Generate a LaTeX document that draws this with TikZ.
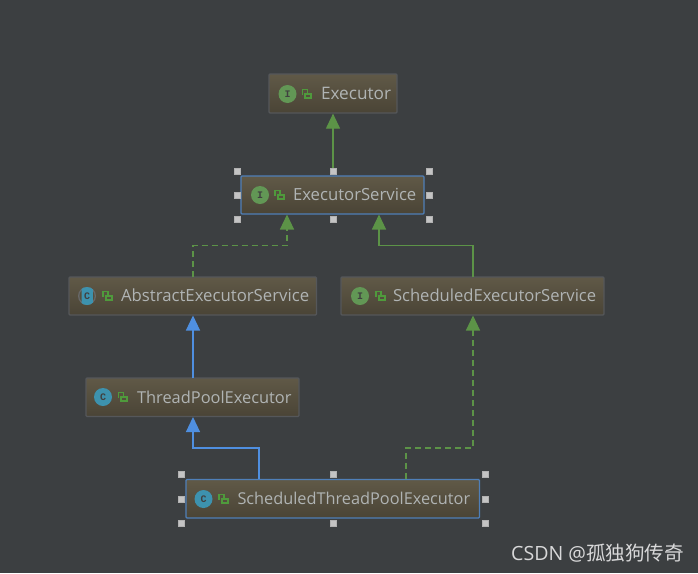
\documentclass[tikz,border=0pt]{standalone}
\usepackage{fontspec}
\setmainfont{Open Sans}
\newfontfamily\cjkwm{Noto Sans CJK SC}
\newfontfamily\iconfont{Liberation Mono}
\usetikzlibrary{arrows.meta,calc}
\definecolor{bgc}{HTML}{3C3F41}
\definecolor{boxtop}{HTML}{605947}
\definecolor{boxbot}{HTML}{4A4436}
\definecolor{boxmid}{HTML}{554F3E}
\definecolor{boxedge}{HTML}{55575A}
\definecolor{seledge}{HTML}{4F7FB8}
\definecolor{labelc}{HTML}{B0B4B4}
\definecolor{grn}{HTML}{5C9347}
\definecolor{blu}{HTML}{4F8FE0}
\definecolor{ifc}{HTML}{629755}
\definecolor{clc}{HTML}{3D92AE}
\definecolor{lockc}{HTML}{4F9A3C}
\definecolor{hdl}{HTML}{C4C4C4}
\tikzset{
  x=1pt,y=-1pt,
  umlbox/.style={draw=boxedge,line width=1.2pt,rounded corners=1pt,top color=boxtop,bottom color=boxbot,
    inner xsep=0pt,inner ysep=0pt,align=left,text=labelc,font=\fontsize{16.3}{19}\selectfont,
    text height=12pt,text depth=0.5pt},
  selbox/.style={draw=seledge},
  iconc/.style={circle,minimum size=18pt,inner sep=0pt,text=black!75,font=\iconfont\bfseries\fontsize{10}{10}\selectfont},
  handlept/.style={rectangle,draw=gray!60,fill=hdl,minimum size=6.5pt,inner sep=0pt,line width=.3pt},
  gline/.style={draw=grn,line width=1.1pt,-{Triangle[width=14pt,length=15pt,fill=grn]}},
  bline/.style={draw=blu,line width=1.2pt,-{Triangle[width=14pt,length=15pt,fill=blu]}},
  dashline/.style={dash pattern=on 6pt off 4pt},
}
\newcommand{\fs}[1]{\fontsize{#1}{19}\selectfont}
% name, x1, y1, x2, y2, extra style, text offset, label
\newcommand{\umlnode}[8]{%
  \pgfmathsetmacro{\bw}{#4-#2}\pgfmathsetmacro{\bh}{#5-#3}%
  \node[umlbox,#6,text width=\bw pt,minimum height=\bh pt,anchor=center] (#1) at ({(#2+#4)/2},{(#3+#5)/2}) {\hspace*{#7pt}#8};%
}
% open padlock around centre x,y
\newcommand{\locksym}[2]{%
  \draw[lockc,line width=1.8pt] (#1-1.2,#2-0.2) rectangle (#1+4.8,#2+3.8);
  \draw[lockc,line width=1.5pt] (#1-4,#2+0.8) -- (#1-4,#2-4.4) -- (#1+0.8,#2-4.4) -- (#1+0.8,#2-0.5);
}
\newcommand{\handles}[7]{% prefix, x1,x2,x3, y1,y2,y3
  \node[handlept] (#1nw) at (#2,#5) {};
  \node[handlept] (#1n) at (#3,#5) {};
  \node[handlept] (#1ne) at (#4,#5) {};
  \node[handlept] (#1w) at (#2,#6) {};
  \node[handlept] (#1e) at (#4,#6) {};
  \node[handlept] (#1sw) at (#2,#7) {};
  \node[handlept] (#1s) at (#3,#7) {};
  \node[handlept] (#1se) at (#4,#7) {};
}
\begin{document}
\begin{tikzpicture}
\useasboundingbox[fill=bgc] (0,0) rectangle (698,573);

\umlnode{exec}{269}{74}{397}{113}{}{52}{\fs{17.2}Executor}
\umlnode{svc}{241}{176}{424}{214}{selbox}{52}{\fs{16.7}ExecutorService}
\umlnode{aes}{69}{277}{316.5}{315}{}{52}{\fs{16.75}AbstractExecutorService}
\umlnode{ses}{341}{277}{604}{315}{}{52}{\fs{16.6}ScheduledExecutorService}
\umlnode{tpe}{86}{378}{299}{416.5}{}{51}{\fs{16.4}ThreadPoolExecutor}
\umlnode{stpe}{186}{479.5}{479.5}{518}{selbox}{51.5}{ScheduledThreadPoolExecutor}

% connector ends on the boxes
\coordinate (svcL) at (287,214.5);
\coordinate (svcR) at (379,214.5);
\coordinate (stpeL) at (259,479);
\coordinate (stpeR) at (406,479);
\coordinate (aesB) at (193,315.5);
\coordinate (tpeT) at (193,378);
\coordinate (tpeB) at (193,417);
\coordinate (sesT) at (473,277);
\coordinate (sesB) at (473,315.5);
\coordinate (aesT) at (193,277);

\draw[gline] (svc.north -| exec.south) -- (exec.south);
\draw[gline,dashline] (aesT) -- (193,245.5) -- (287,245.5) -- (svcL);
\draw[gline] (sesT) -- (473,245.5) -- (379,245.5) -- (svcR);
\draw[bline] (tpeT) -- (aesB);
\draw[bline] (stpeL) -- (259,448) -- (193,448) -- (tpeB);
\draw[gline,dashline] (stpeR) -- (406,448) -- (473,448) -- (sesB);

% icons
\node[iconc,fill=ifc] (execI) at (287.5,94) {I};
\node[iconc,fill=ifc] (svcI) at (260,195) {I};
\node[iconc,fill=ifc] (sesI) at (360,296) {I};
\node[iconc,fill=clc] (tpeC) at (103,397) {C};
\node[iconc,fill=clc] (stpeC) at (203.5,499) {C};
% abstract class icon: grey outer rim, dark gap, teal bar
\node[iconc,fill=gray!65!bgc] (aesO) at (87,296) {};
\fill[boxmid] (87,296) circle (7.6pt);
\begin{scope}
  \clip (87,296) circle (9pt);
  \fill[clc,rounded corners=2pt] (81.5,286) rectangle (92.8,306);
\end{scope}
\node[text=black!75,font=\iconfont\bfseries\fontsize{10}{10}\selectfont,inner sep=0pt] (aesC) at (87,296) {C};

\locksym{306.5}{94}
\locksym{279}{195}
\locksym{107}{296}
\locksym{380}{296}
\locksym{122.5}{397}
\locksym{223}{499}

% selection handles
\handles{a}{237}{333}{429}{171}{195}{219}
\handles{b}{181}{333}{485}{474}{499}{523}

% watermark
\node[anchor=west,inner sep=0pt,text=white!80!bgc,font=\fontsize{19.6}{22}\selectfont] (wm) at (511,553.5) {CSDN @{\cjkwm 孤独狗传奇}};
\end{tikzpicture}
\end{document}
